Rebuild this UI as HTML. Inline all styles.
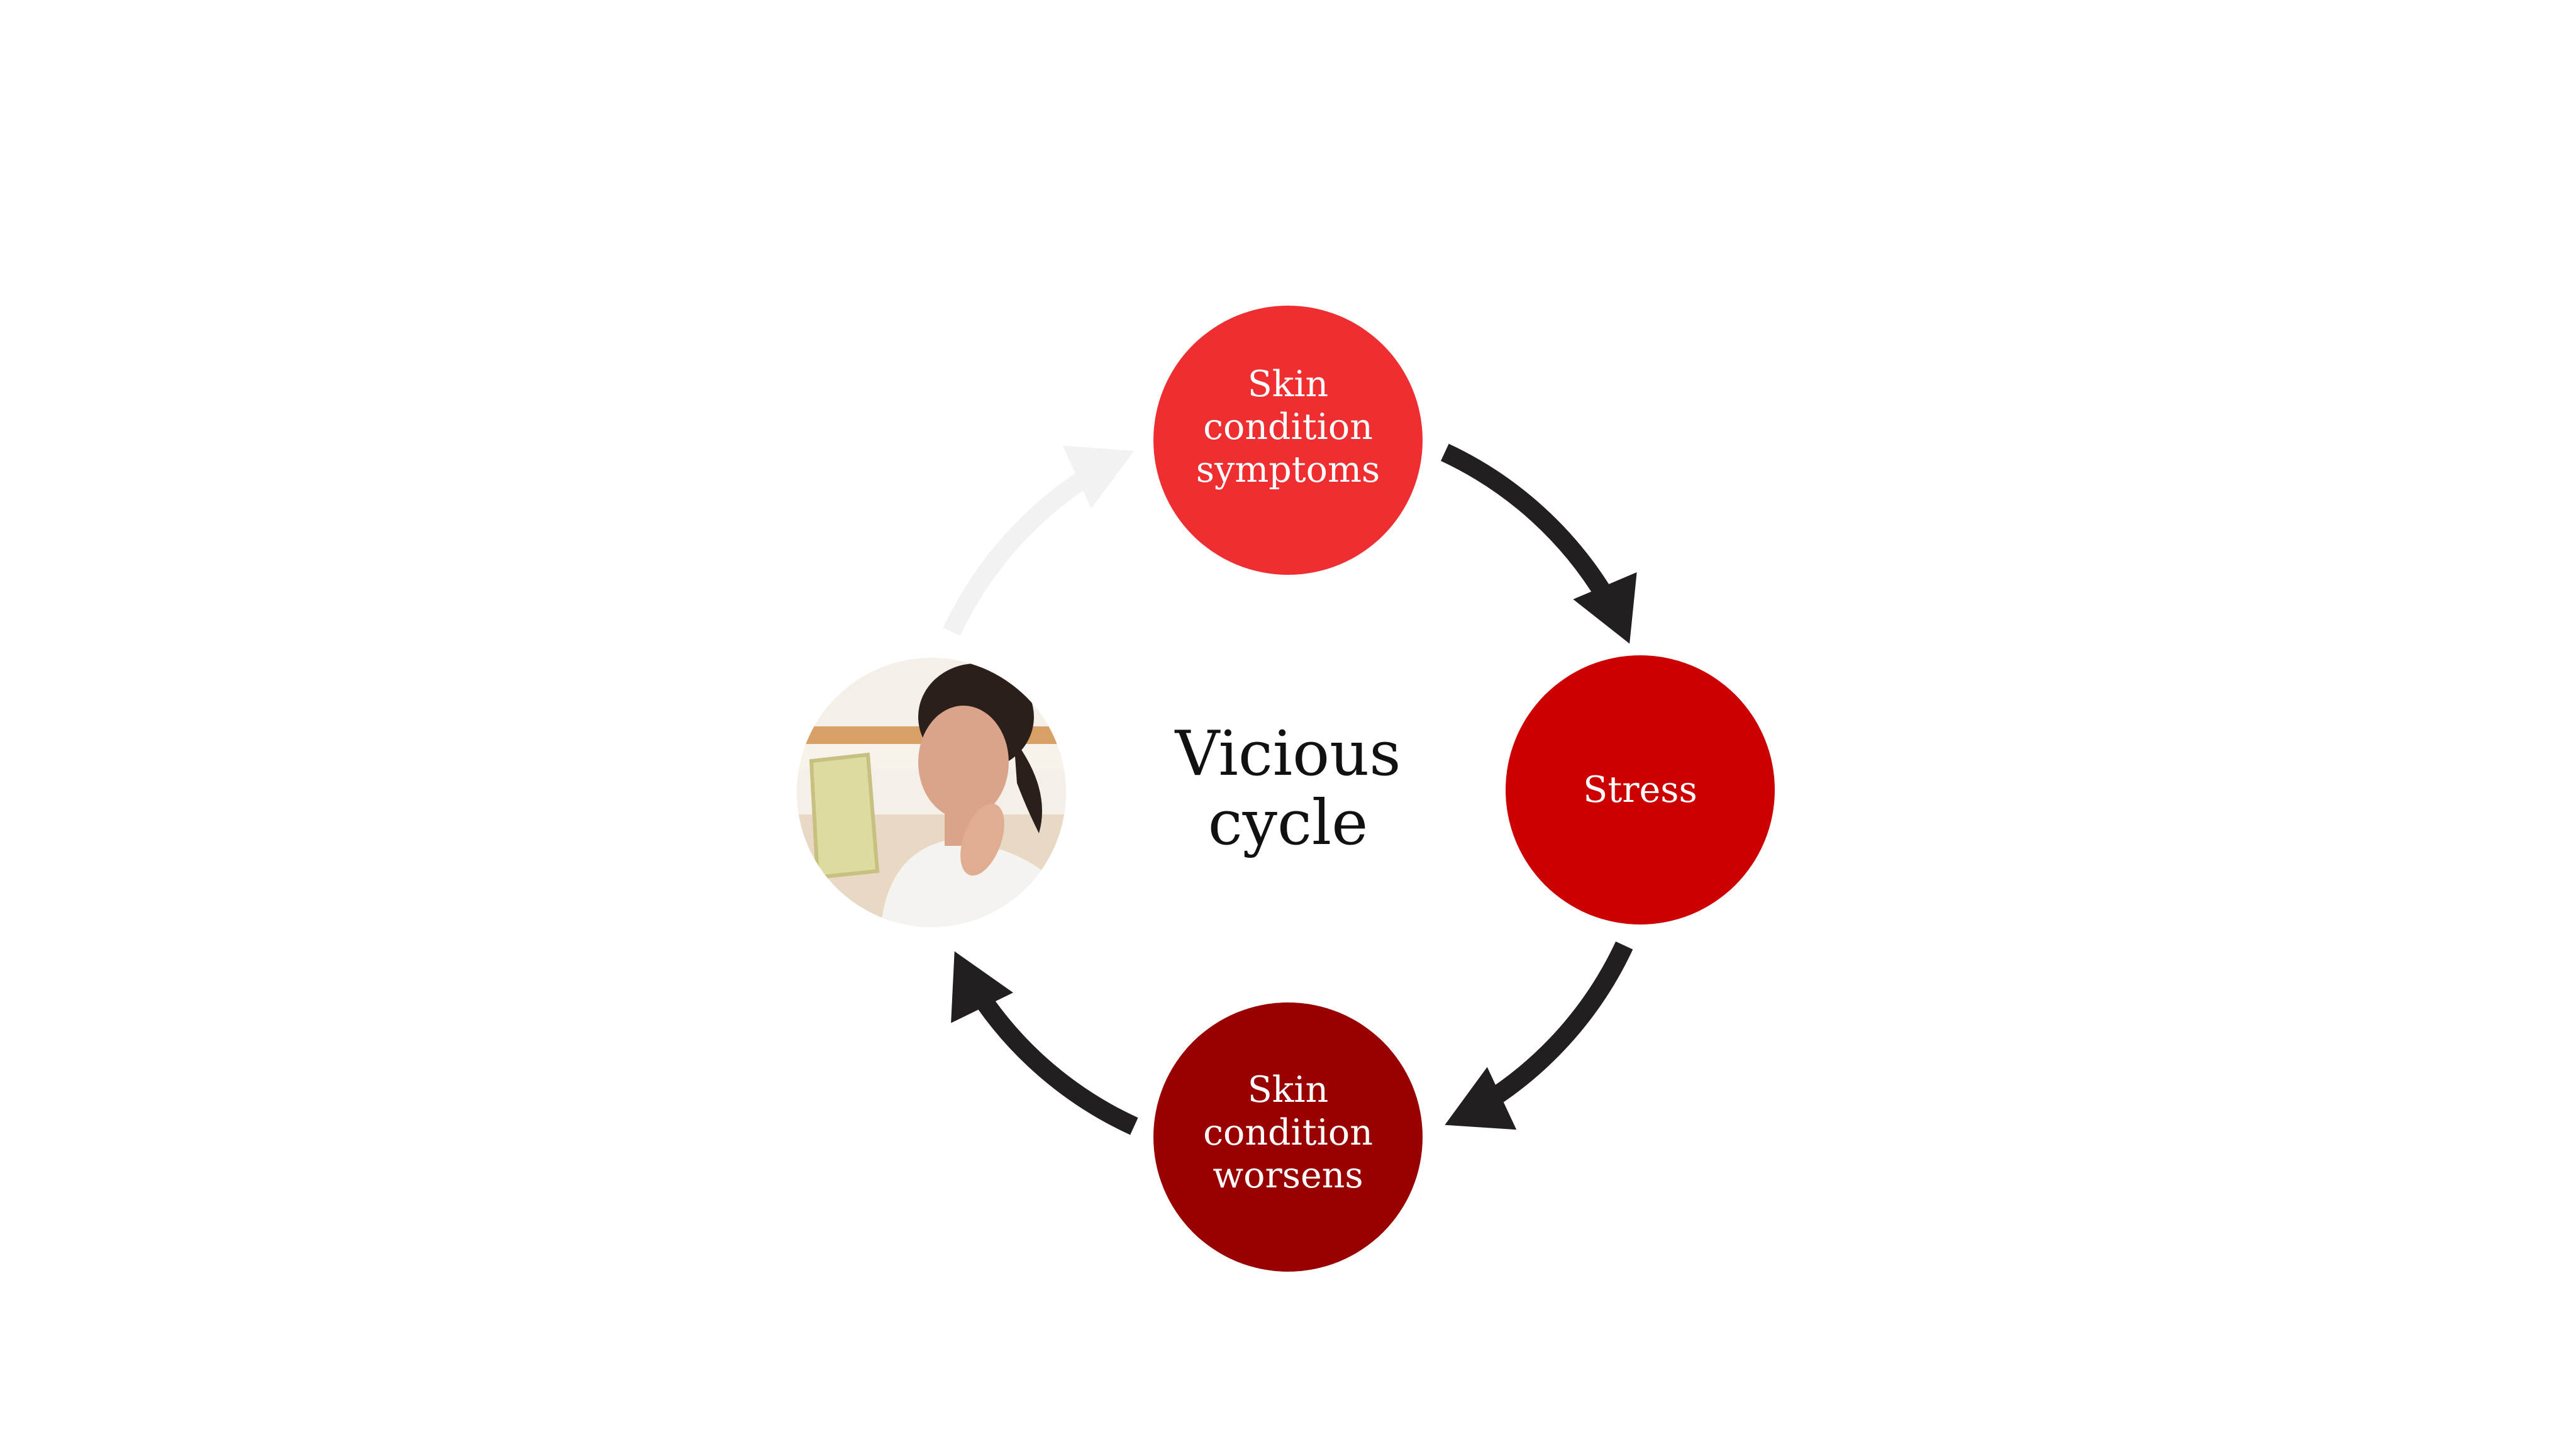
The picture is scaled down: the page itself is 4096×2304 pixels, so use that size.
<!DOCTYPE html>
<html><head><meta charset="utf-8"><style>
html,body{margin:0;padding:0;background:#fff;}
svg{display:block}
</style></head><body>
<svg id="s" width="4096" height="2304" viewBox="0 0 4096 2304" xmlns="http://www.w3.org/2000/svg">
<defs>
<clipPath id="pc"><circle cx="1481" cy="1260" r="214"/></clipPath>
</defs>
<g id="arrows"></g>
<circle cx="2048" cy="700" r="214" fill="#ee2e31"/>
<circle cx="2608" cy="1256" r="214" fill="#cc0000"/>
<circle cx="2048" cy="1808" r="214" fill="#990000"/>
<g clip-path="url(#pc)">
<rect x="1260" y="1040" width="440" height="440" fill="#f4efe8"/>
<rect x="1260" y="1155" width="440" height="28" fill="#d9a066"/>
<rect x="1260" y="1183" width="440" height="40" fill="#f7f2ea"/>
<rect x="1260" y="1295" width="440" height="200" fill="#e8d9c4"/>
<path d="M1400 1480 Q1410 1355 1510 1335 Q1630 1345 1690 1415 L1700 1500 Z" fill="#f5f3f0"/>
<ellipse cx="1552" cy="1140" rx="92" ry="85" fill="#2b1f1c"/>
<path d="M1612 1175 Q1672 1255 1652 1325 Q1632 1285 1617 1245 Z" fill="#2b1f1c"/>
<ellipse cx="1532" cy="1212" rx="72" ry="90" fill="#d9a48a"/>
<rect x="1502" y="1285" width="55" height="60" fill="#d9a48a"/>
<ellipse cx="1562" cy="1335" rx="30" ry="60" fill="#e0ad92" transform="rotate(20 1562 1335)"/>
<polygon points="1290,1210 1380,1200 1395,1385 1300,1395" fill="#dcdca0" stroke="#c8c080" stroke-width="6"/>
</g>
<text x="2048" y="1232" font-family="'DejaVu Serif','Liberation Serif',serif" font-size="98" text-anchor="middle" fill="#111">Vicious</text>
<text x="2048" y="1342" font-family="'DejaVu Serif','Liberation Serif',serif" font-size="98" text-anchor="middle" fill="#111">cycle</text>
<g font-family="'DejaVu Serif','Liberation Serif',serif" font-size="57" text-anchor="middle" fill="#fff">
<text x="2048" y="630">Skin</text>
<text x="2048" y="698">condition</text>
<text x="2048" y="766">symptoms</text>
<text x="2608" y="1275">Stress</text>
<text x="2048" y="1752">Skin</text>
<text x="2048" y="1820">condition</text>
<text x="2048" y="1888">worsens</text>
</g>
</svg>
<script>
(function(){
var C=[2048,1254],R=590,L=100,W=110,g=document.getElementById('arrows');
var arr=[[-65,-23,'#231f20'],[25,65,'#231f20'],[114.5,154,'#231f20'],[205,245.5,'#f2f2f2']];
function P(a){a=a*Math.PI/180;return [C[0]+R*Math.cos(a),C[1]+R*Math.sin(a)];}
var ns='http://www.w3.org/2000/svg';
arr.forEach(function(a){
 var s=a[0],t=a[1];
 var endA=t-(L*0.75/R)*180/Math.PI;
 var p0=P(s),p1=P(endA);
 var path=document.createElementNS(ns,'path');
 path.setAttribute('d','M'+p0[0]+' '+p0[1]+' A'+R+' '+R+' 0 0 1 '+p1[0]+' '+p1[1]);
 path.setAttribute('fill','none');path.setAttribute('stroke',a[2]);path.setAttribute('stroke-width','30');
 g.appendChild(path);
 var tip=P(t),ta=t*Math.PI/180;
 var tx=-Math.sin(ta),ty=Math.cos(ta);
 var bx=tip[0]-L*tx,by=tip[1]-L*ty;
 var nx=-ty,ny=tx;
 var poly=document.createElementNS(ns,'polygon');
 poly.setAttribute('points',tip[0]+','+tip[1]+' '+(bx+nx*W/2)+','+(by+ny*W/2)+' '+(bx-nx*W/2)+','+(by-ny*W/2));
 poly.setAttribute('fill',a[2]);
 g.appendChild(poly);
});
})();
</script>
</body></html>
